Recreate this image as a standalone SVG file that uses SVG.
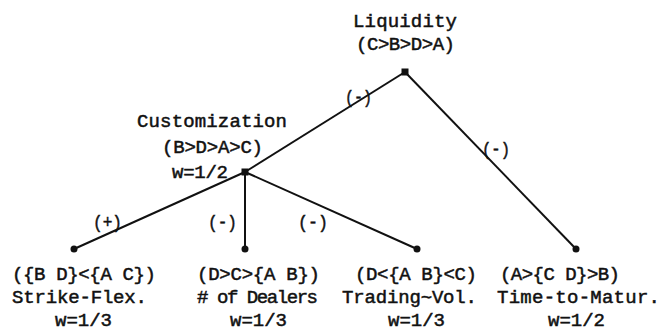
<svg xmlns="http://www.w3.org/2000/svg" width="662" height="332" viewBox="0 0 662 332">
<style>
text{font-family:"Liberation Mono","DejaVu Sans Mono",monospace;font-size:19px;fill:#111;stroke:#111;stroke-width:0.5}
.e{stroke:#111;stroke-width:2;fill:none}
.d{fill:#111}
</style>
<rect width="662" height="332" fill="#fff"/>
<g id="connectors">
<line class="e" x1="405" y1="72" x2="245" y2="172"/>
<line class="e" x1="405" y1="72" x2="576" y2="249"/>
<line class="e" x1="245" y1="172" x2="74" y2="249"/>
<line class="e" x1="245" y1="172" x2="245" y2="249"/>
<line class="e" x1="245" y1="172" x2="417" y2="249"/>
<text x="345" y="103" textLength="27" lengthAdjust="spacingAndGlyphs">(-)</text>
<text x="482" y="155" textLength="28" lengthAdjust="spacingAndGlyphs">(-)</text>
<text x="93" y="228" textLength="29" lengthAdjust="spacingAndGlyphs">(+)</text>
<text x="208" y="228" textLength="29" lengthAdjust="spacingAndGlyphs">(-)</text>
<text x="298" y="228" textLength="30" lengthAdjust="spacingAndGlyphs">(-)</text>
</g>
<g id="liquidity">
<rect class="d" x="401.5" y="68.5" width="7" height="7"/>
<text x="353" y="27" textLength="104">Liquidity</text>
<text x="356" y="50" textLength="99">(C&gt;B&gt;D&gt;A)</text>
</g>
<g id="customization">
<rect class="d" x="241.5" y="168.5" width="7" height="7"/>
<text x="137" y="127" textLength="150">Customization</text>
<text x="162" y="153" textLength="101">(B&gt;D&gt;A&gt;C)</text>
<text x="172" y="178" textLength="56">w=1/2</text>
</g>
<g id="strike-flex">
<circle class="d" cx="74" cy="249" r="3.5"/>
<text x="12" y="280" textLength="144">({B D}&lt;{A C})</text>
<text x="12" y="303" textLength="135">Strike-Flex.</text>
<text x="55" y="326" textLength="57">w=1/3</text>
</g>
<g id="dealers">
<circle class="d" cx="245" cy="249" r="3.5"/>
<text x="197" y="280" textLength="123">(D&gt;C&gt;{A B})</text>
<text x="197" y="303" textLength="121"># of Dealers</text>
<text x="230" y="326" textLength="57">w=1/3</text>
</g>
<g id="trading-vol">
<circle class="d" cx="417" cy="249" r="3.5"/>
<text x="355" y="280" textLength="122">(D&lt;{A B}&lt;C)</text>
<text x="342" y="303" textLength="135">Trading~Vol.</text>
<text x="388" y="326" textLength="57">w=1/3</text>
</g>
<g id="time-to-matur">
<circle class="d" cx="576" cy="249" r="3.5"/>
<text x="500" y="280" textLength="120">(A&gt;{C D}&gt;B)</text>
<text x="497" y="303" textLength="163">Time-to-Matur.</text>
<text x="548" y="326" textLength="57">w=1/2</text>
</g>
</svg>
